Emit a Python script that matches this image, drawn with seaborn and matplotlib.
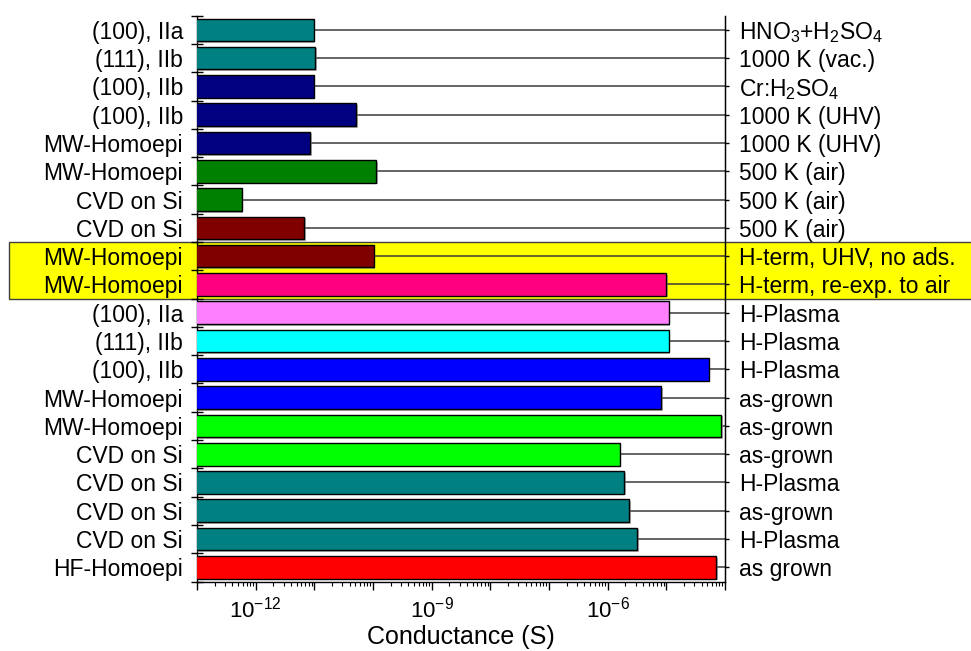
import matplotlib
matplotlib.use("Agg")
import matplotlib.pyplot as plt
import matplotlib.patheffects as pe
import matplotlib.transforms as mtransforms
from matplotlib.patches import Rectangle
from matplotlib.ticker import FixedLocator, LogLocator, NullFormatter, FuncFormatter
import seaborn as sns
import pandas as pd
import numpy as np

# ---- data ----
left_labels = [
    "(100), IIa", "(111), IIb", "(100), IIb", "(100), IIb", "MW-Homoepi",
    "MW-Homoepi", "CVD on Si", "CVD on Si", "MW-Homoepi", "MW-Homoepi",
    "(100), IIa", "(111), IIb", "(100), IIb", "MW-Homoepi", "MW-Homoepi",
    "CVD on Si", "CVD on Si", "CVD on Si", "CVD on Si", "HF-Homoepi",
]
right_labels = [
    r"HNO$_3$+H$_2$SO$_4$", "1000 K (vac.)", r"Cr:H$_2$SO$_4$", "1000 K (UHV)",
    "1000 K (UHV)", "500 K (air)", "500 K (air)", "500 K (air)",
    "H-term, UHV, no ads.", "H-term, re-exp. to air",
    "H-Plasma", "H-Plasma", "H-Plasma", "as-grown", "as-grown",
    "as-grown", "H-Plasma", "as-grown", "H-Plasma", "as grown",
]
conductance = [
    9.8e-12, 1.03e-11, 9.8e-12, 5.2e-11, 8.6e-12,
    1.12e-10, 5.8e-13, 6.7e-12, 1.03e-10, 1.0e-5,
    1.1e-5, 1.1e-5, 5.3e-5, 8.1e-6, 8.5e-5,
    1.6e-6, 1.9e-6, 2.3e-6, 3.2e-6, 7.0e-5,
]
bar_colors = [
    "#008080", "#008080", "#000080", "#000080", "#000080",
    "#008000", "#008000", "#800000", "#800000", "#FF0080",
    "#FF80FF", "#00FFFF", "#0000FF", "#0000FF", "#00FF00",
    "#00FF00", "#008080", "#008080", "#008080", "#FF0000",
]
highlight_rows = [8, 9]

# ---- style ----
sns.set_style("ticks")
plt.rcParams["font.family"] = ["Liberation Sans", "DejaVu Sans"]
plt.rcParams["mathtext.fontset"] = "custom"
plt.rcParams["mathtext.rm"] = "Liberation Sans"
plt.rcParams["mathtext.it"] = "Liberation Sans:italic"
plt.rcParams["mathtext.bf"] = "Liberation Sans:bold"
for k in ["text.color", "axes.labelcolor", "xtick.color", "ytick.color", "axes.edgecolor"]:
    plt.rcParams[k] = "black"

n = len(conductance)
keys = [f"r{i}" for i in range(n)]
df = pd.DataFrame({"key": keys, "G": conductance})

fig = plt.figure(figsize=(9.71, 6.51), dpi=100)
ax = fig.add_axes([197 / 971, 1 - 581.5 / 651, (725 - 197) / 971, (581.5 - 15.7) / 651])
ax.patch.set_alpha(0)
ax.set_xscale("log")

sns.barplot(data=df, x="G", y="key", hue="key", palette=bar_colors, order=keys,
            hue_order=keys, orient="h", width=0.8, saturation=1, edgecolor="black",
            linewidth=1.0, legend=False, ax=ax, zorder=3)

for p in ax.patches:
    p.set_path_effects([pe.SimplePatchShadow(offset=(1.2, -1.2), shadow_rgbFace="gray", alpha=0.6),
                        pe.Normal()])

xmin, xmax = 1e-13, 1e-4
ax.set_xlim(xmin, xmax)
ax.set_ylim(n - 0.5, -0.5)

# connector lines from bar end to right axis
ax.hlines(np.arange(n), conductance, xmax, colors="#3a3a3a", linewidth=1.1, zorder=2)

# highlight band (extends beyond the axes)
trans = mtransforms.blended_transform_factory(fig.transFigure, ax.transData)
y0 = min(highlight_rows) - 0.5
y1 = max(highlight_rows) + 0.5
rect = Rectangle((9 / 971, y0), 1.2, y1 - y0, transform=trans, facecolor="#FFFF00",
                 edgecolor="#404040", linewidth=1.0, zorder=-5, clip_on=False)
fig.patches.append(rect)

# y axis: labels at centres, ticks at boundaries
ax.set_yticks(np.arange(n))
ax.set_yticklabels(left_labels, fontsize=16.5)
ax.yaxis.set_minor_locator(FixedLocator(np.arange(-0.5, n, 1.0)))
ax.tick_params(axis="y", which="major", length=0, pad=10)
ax.tick_params(axis="y", which="minor", length=8, direction="inout", width=1.0)
ax.set_ylabel("")

# right labels via twin axis
ax2 = ax.twinx()
ax2.set_ylim(ax.get_ylim())
ax2.set_yticks(np.arange(n))
ax2.set_yticklabels(right_labels, fontsize=16.5)
ax2.tick_params(axis="y", which="major", length=3, direction="out", pad=7, width=1.0)
ax2.spines["top"].set_visible(False)
ax2.patch.set_alpha(0)

# x axis
ax.xaxis.set_major_locator(FixedLocator([10.0 ** k for k in range(-13, -3)]))
labelled = {-12, -9, -6}
ax.xaxis.set_major_formatter(FuncFormatter(
    lambda v, pos: (r"$10^{%d}$" % int(round(np.log10(v)))) if int(round(np.log10(v))) in labelled else ""))
ax.xaxis.set_minor_locator(LogLocator(base=10, subs=np.arange(2, 10), numticks=100))
ax.xaxis.set_minor_formatter(NullFormatter())
ax.tick_params(axis="x", which="major", length=6, width=1.0, labelsize=16, pad=5)
ax.tick_params(axis="x", which="minor", length=3, width=0.8)
ax.set_xlabel("Conductance (S)", fontsize=18, labelpad=2)

for s in ["left", "bottom", "right"]:
    ax.spines[s].set_visible(True)
    ax.spines[s].set_linewidth(1.0)
    ax.spines[s].set_color("black")
ax.spines["top"].set_visible(False)
ax2.spines["left"].set_visible(False)
ax2.spines["bottom"].set_visible(False)

fig.savefig("out.png", dpi=100)
